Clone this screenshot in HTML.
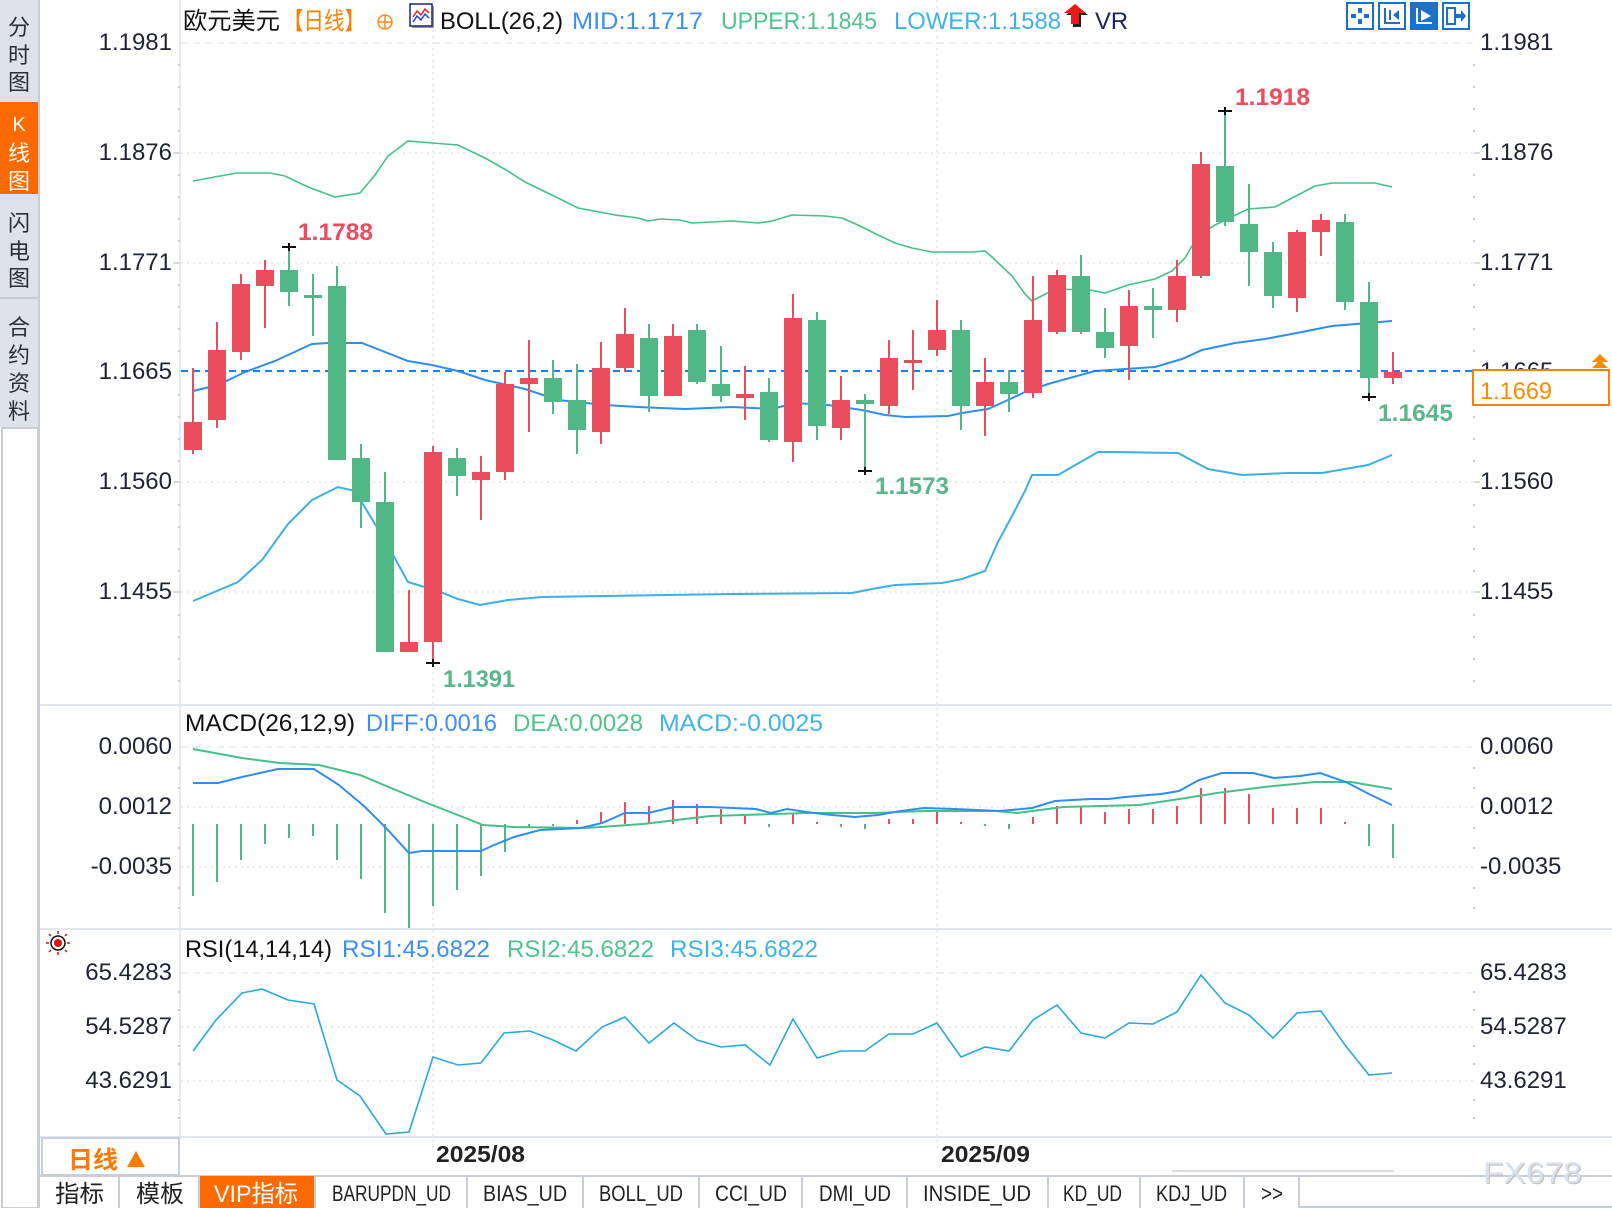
<!DOCTYPE html>
<html><head><meta charset="utf-8"><style>
html,body{margin:0;padding:0;background:#fff;}
svg{display:block;}
text{font-family:"Liberation Sans","Noto Sans CJK SC",sans-serif;}
.ax{font-size:24px;fill:#1e2433;}
.cj{font-family:"Liberation Sans","Noto Sans CJK SC",sans-serif;}
.mono{font-family:"Liberation Mono","Noto Sans CJK SC",monospace;font-size:22px;fill:#222;}
</style></head><body>
<svg width="1612" height="1208" viewBox="0 0 1612 1208" xmlns="http://www.w3.org/2000/svg">
<rect width="1612" height="1208" fill="#fff"/>

<!-- sidebar -->
<rect x="0" y="0" width="40" height="427" fill="#dfe2ea"/>
<rect x="0" y="102" width="38" height="92" fill="#ff6a00"/>
<line x1="0" y1="298" x2="40" y2="298" stroke="#c4c9d4" stroke-width="2"/>
<rect x="2" y="428" width="36" height="780" fill="#fff" stroke="#c8ced8" stroke-width="2"/>
<g class="cj" font-size="22" fill="#2a2d3a" text-anchor="middle">
<text x="19" y="35">分</text><text x="19" y="63">时</text><text x="19" y="90">图</text>
<text x="19" y="131" fill="#fff" font-size="20" font-family="Liberation Serif,serif">K</text>
<text x="19" y="161" fill="#fff">线</text><text x="19" y="189" fill="#fff">图</text>
<text x="19" y="231">闪</text><text x="19" y="259">电</text><text x="19" y="286">图</text>
<text x="19" y="335">合</text><text x="19" y="363">约</text><text x="19" y="391">资</text><text x="19" y="419">料</text>
</g>
<line x1="39" y1="0" x2="39" y2="1208" stroke="#c8ced8" stroke-width="2"/>

<!-- panel separators -->
<g stroke="#e1e6ee" stroke-width="2">
<line x1="40" y1="705" x2="1612" y2="705"/>
<line x1="40" y1="929" x2="1612" y2="929"/>
<line x1="40" y1="1137" x2="1612" y2="1137"/>
</g>
<!-- left axis line -->
<line x1="180" y1="0" x2="180" y2="1137" stroke="#e6eaf0" stroke-width="2"/>

<!-- horizontal gridlines -->
<g stroke="#e3e6ea" stroke-width="1.5" stroke-dasharray="2,4">
<line x1="181" y1="153" x2="1474" y2="153"/>
<line x1="181" y1="263" x2="1474" y2="263"/>
<line x1="181" y1="372" x2="1474" y2="372"/>
<line x1="181" y1="482" x2="1474" y2="482"/>
<line x1="181" y1="592" x2="1474" y2="592"/>
<line x1="181" y1="807" x2="1474" y2="807"/>
<line x1="181" y1="867" x2="1474" y2="867"/>
<line x1="181" y1="1027" x2="1474" y2="1027"/>
<line x1="181" y1="1081" x2="1474" y2="1081"/>
</g>
<g stroke="#e6eaf0" stroke-width="1.5" stroke-dasharray="7,5">
<line x1="181" y1="43" x2="1474" y2="43"/>
<line x1="181" y1="747" x2="1474" y2="747"/>
<line x1="181" y1="973" x2="1474" y2="973"/>
</g>
<!-- vertical gridlines -->
<g stroke="#e3e6ea" stroke-width="1.5" stroke-dasharray="2,4">
<line x1="433" y1="0" x2="433" y2="1148"/>
<line x1="937" y1="0" x2="937" y2="1148"/>
</g>

<!-- axis tick dots -->
<g fill="#c9ced7">
<rect x="178" y="64" width="2" height="2"/><rect x="178" y="86" width="2" height="2"/><rect x="178" y="108" width="2" height="2"/><rect x="178" y="130" width="2" height="2"/>
<rect x="178" y="174" width="2" height="2"/><rect x="178" y="196" width="2" height="2"/><rect x="178" y="218" width="2" height="2"/><rect x="178" y="240" width="2" height="2"/>
<rect x="178" y="284" width="2" height="2"/><rect x="178" y="306" width="2" height="2"/><rect x="178" y="328" width="2" height="2"/><rect x="178" y="350" width="2" height="2"/>
<rect x="178" y="394" width="2" height="2"/><rect x="178" y="416" width="2" height="2"/><rect x="178" y="438" width="2" height="2"/><rect x="178" y="460" width="2" height="2"/>
<rect x="178" y="504" width="2" height="2"/><rect x="178" y="526" width="2" height="2"/><rect x="178" y="548" width="2" height="2"/><rect x="178" y="570" width="2" height="2"/>
<rect x="178" y="614" width="2" height="2"/><rect x="178" y="636" width="2" height="2"/><rect x="178" y="658" width="2" height="2"/><rect x="178" y="680" width="2" height="2"/>
<rect x="178" y="767" width="2" height="2"/><rect x="178" y="787" width="2" height="2"/><rect x="178" y="827" width="2" height="2"/><rect x="178" y="847" width="2" height="2"/><rect x="178" y="887" width="2" height="2"/><rect x="178" y="907" width="2" height="2"/>
<rect x="178" y="991" width="2" height="2"/><rect x="178" y="1009" width="2" height="2"/><rect x="178" y="1045" width="2" height="2"/><rect x="178" y="1063" width="2" height="2"/><rect x="178" y="1099" width="2" height="2"/><rect x="178" y="1117" width="2" height="2"/>
<rect x="1473" y="64" width="2" height="2"/><rect x="1473" y="86" width="2" height="2"/><rect x="1473" y="108" width="2" height="2"/><rect x="1473" y="130" width="2" height="2"/>
<rect x="1473" y="174" width="2" height="2"/><rect x="1473" y="196" width="2" height="2"/><rect x="1473" y="218" width="2" height="2"/><rect x="1473" y="240" width="2" height="2"/>
<rect x="1473" y="284" width="2" height="2"/><rect x="1473" y="306" width="2" height="2"/><rect x="1473" y="328" width="2" height="2"/><rect x="1473" y="350" width="2" height="2"/>
<rect x="1473" y="416" width="2" height="2"/><rect x="1473" y="438" width="2" height="2"/><rect x="1473" y="460" width="2" height="2"/>
<rect x="1473" y="504" width="2" height="2"/><rect x="1473" y="526" width="2" height="2"/><rect x="1473" y="548" width="2" height="2"/><rect x="1473" y="570" width="2" height="2"/>
<rect x="1473" y="614" width="2" height="2"/><rect x="1473" y="636" width="2" height="2"/><rect x="1473" y="658" width="2" height="2"/><rect x="1473" y="680" width="2" height="2"/>
<rect x="1473" y="767" width="2" height="2"/><rect x="1473" y="787" width="2" height="2"/><rect x="1473" y="827" width="2" height="2"/><rect x="1473" y="847" width="2" height="2"/><rect x="1473" y="887" width="2" height="2"/><rect x="1473" y="907" width="2" height="2"/>
<rect x="1473" y="991" width="2" height="2"/><rect x="1473" y="1009" width="2" height="2"/><rect x="1473" y="1045" width="2" height="2"/><rect x="1473" y="1063" width="2" height="2"/><rect x="1473" y="1099" width="2" height="2"/><rect x="1473" y="1117" width="2" height="2"/>
</g>
<g stroke="#c9ced7" stroke-width="1.5">
<line x1="173" y1="153" x2="180" y2="153"/><line x1="173" y1="263" x2="180" y2="263"/><line x1="173" y1="482" x2="180" y2="482"/><line x1="173" y1="592" x2="180" y2="592"/>
<line x1="1474" y1="153" x2="1480" y2="153"/><line x1="1474" y1="263" x2="1480" y2="263"/><line x1="1474" y1="482" x2="1480" y2="482"/><line x1="1474" y1="592" x2="1480" y2="592"/>
</g>

<!-- left axis labels -->
<g class="ax" text-anchor="end">
<text x="172" y="50">1.1981</text><text x="172" y="160">1.1876</text><text x="172" y="270">1.1771</text><text x="172" y="379">1.1665</text><text x="172" y="489">1.1560</text><text x="172" y="599">1.1455</text>
<text x="172" y="754">0.0060</text><text x="172" y="814">0.0012</text><text x="172" y="874">-0.0035</text>
<text x="172" y="980">65.4283</text><text x="172" y="1034">54.5287</text><text x="172" y="1088">43.6291</text>
</g>
<!-- right axis labels -->
<g class="ax">
<text x="1480" y="50">1.1981</text><text x="1480" y="160">1.1876</text><text x="1480" y="270">1.1771</text><text x="1480" y="379">1.1665</text><text x="1480" y="489">1.1560</text><text x="1480" y="599">1.1455</text>
<text x="1480" y="754">0.0060</text><text x="1480" y="814">0.0012</text><text x="1480" y="874">-0.0035</text>
<text x="1480" y="980">65.4283</text><text x="1480" y="1034">54.5287</text><text x="1480" y="1088">43.6291</text>
</g>

<!-- header -->
<text x="183" y="29" font-size="24" fill="#111" textLength="97" lengthAdjust="spacingAndGlyphs">欧元美元</text>
<text x="283" y="29" font-size="24" fill="#ff8000" textLength="82" lengthAdjust="spacingAndGlyphs">【日线】</text>
<circle cx="385" cy="22" r="7" fill="none" stroke="#ff8c1a" stroke-width="1.5"/>
<line x1="378" y1="22" x2="392" y2="22" stroke="#ff8c1a" stroke-width="1.5"/>
<line x1="385" y1="15" x2="385" y2="29" stroke="#ff8c1a" stroke-width="1.5"/>
<rect x="412" y="6" width="22" height="22" fill="#9a9a9a"/>
<rect x="410" y="4" width="22" height="22" fill="#fff" stroke="#1a237e" stroke-width="1.5"/>
<polyline points="413,17 417,11 421,15 425,9 429,13" fill="none" stroke="#e02020" stroke-width="1.5"/>
<polyline points="413,22 417,16 421,20 425,14 429,18" fill="none" stroke="#2040e0" stroke-width="1.5"/>
<text x="440" y="29" font-size="24" fill="#111" textLength="123" lengthAdjust="spacingAndGlyphs">BOLL(26,2)</text>
<text x="572" y="29" font-size="24" fill="#3d8ef5" textLength="131" lengthAdjust="spacingAndGlyphs">MID:1.1717</text>
<text x="721" y="29" font-size="24" fill="#4fc48b" textLength="156" lengthAdjust="spacingAndGlyphs">UPPER:1.1845</text>
<text x="894" y="29" font-size="24" fill="#3fb2ea" textLength="167" lengthAdjust="spacingAndGlyphs">LOWER:1.1588</text>
<polygon points="1077,6 1088,15 1081,15 1081,27 1073,27 1073,15 1066,15" fill="#222"/>
<polygon points="1075,4 1086,13 1079,13 1079,24 1071,24 1071,13 1064,13" fill="#f01818"/>
<text x="1095" y="29" font-size="24" fill="#1a2460" textLength="33" lengthAdjust="spacingAndGlyphs">VR</text>

<!-- top right icons -->
<g stroke="#1a6fc9" stroke-width="2" fill="#fff">
<rect x="1347" y="3" width="26" height="26"/>
<rect x="1379" y="3" width="26" height="26"/>
<rect x="1411" y="3" width="26" height="26" fill="#1a73c8"/>
<rect x="1443" y="3" width="26" height="26"/>
</g>
<g fill="#1a6fc9">
<rect x="1358" y="8" width="4" height="5"/><rect x="1358" y="19" width="4" height="5"/><rect x="1351" y="14" width="5" height="4"/><rect x="1364" y="14" width="5" height="4"/>
<rect x="1384" y="8" width="2" height="16"/><rect x="1384" y="22" width="16" height="2"/><rect x="1389" y="10" width="2" height="10"/><polygon points="1399,10 1393,15 1399,20"/>
<rect x="1447" y="8" width="8" height="16" fill="none" stroke="#1a6fc9" stroke-width="2"/><polygon points="1456,14 1461,14 1461,10 1466,16 1461,22 1461,18 1456,18"/>
</g>
<g fill="#fff">
<rect x="1416" y="8" width="2" height="16"/><rect x="1416" y="22" width="16" height="2"/><polygon points="1421,10 1431,16 1421,21"/>
</g>

<!-- Bollinger bands -->
<polyline fill="none" stroke="#46c088" stroke-width="1.6" points="193,181 220,176 237,173 270,173 285,176 308,187 335,197 360,193 375,175 388,156 408,141 445,144 458,145 485,158 508,171 525,182 558,198 578,208 605,213 615,215 638,218 648,221 660,219 680,220 692,223 732,221 758,223 772,221 792,215 825,216 842,218 858,225 878,235 895,243 912,248 932,252 972,252 985,251 992,257 1012,276 1025,294 1032,301 1055,289 1090,290 1105,293 1128,285 1155,279 1172,271 1185,258 1198,236 1215,225 1248,209 1275,207 1315,186 1332,183 1375,183 1392,187"/>
<polyline fill="none" stroke="#2f8ef0" stroke-width="2" points="193,391 218,385 245,372 275,361 312,344 328,343 362,343 408,361 432,365 458,371 485,380 525,389 558,400 605,405 638,407 685,409 732,407 772,409 795,403 828,405 862,410 885,415 905,417 948,416 962,413 988,409 1008,400 1025,392 1048,384 1095,371 1155,367 1182,359 1202,350 1235,343 1265,339 1302,332 1332,326 1392,321"/>
<polyline fill="none" stroke="#3cb0e6" stroke-width="2" points="193,601 238,582 262,560 288,524 312,500 338,487 355,491 375,524 392,553 408,582 438,591 458,599 480,605 508,600 542,597 605,596 732,594 852,593 872,589 895,585 942,583 962,579 985,571 998,542 1012,516 1025,491 1032,475 1058,475 1098,452 1115,452 1178,453 1208,469 1242,475 1288,473 1322,473 1368,465 1392,455"/>

<!-- current price line -->
<line x1="181" y1="371" x2="1474" y2="371" stroke="#1e7ff0" stroke-width="2" stroke-dasharray="7,5"/>

<!-- candles -->
<g id="candles">
<g stroke="#ec4d5c" stroke-width="2">
<line x1="193" y1="368" x2="193" y2="454"/><line x1="217" y1="322" x2="217" y2="428"/><line x1="241" y1="274" x2="241" y2="360"/><line x1="265" y1="260" x2="265" y2="328"/>
<line x1="409" y1="590" x2="409" y2="652"/><line x1="433" y1="446" x2="433" y2="663"/><line x1="481" y1="456" x2="481" y2="520"/><line x1="505" y1="372" x2="505" y2="480"/>
<line x1="529" y1="340" x2="529" y2="432"/><line x1="601" y1="342" x2="601" y2="444"/><line x1="625" y1="308" x2="625" y2="372"/><line x1="673" y1="324" x2="673" y2="396"/>
<line x1="745" y1="366" x2="745" y2="420"/><line x1="793" y1="294" x2="793" y2="462"/><line x1="841" y1="376" x2="841" y2="440"/><line x1="889" y1="340" x2="889" y2="414"/>
<line x1="913" y1="330" x2="913" y2="390"/><line x1="937" y1="300" x2="937" y2="356"/><line x1="985" y1="358" x2="985" y2="436"/><line x1="1033" y1="276" x2="1033" y2="398"/>
<line x1="1057" y1="270" x2="1057" y2="334"/><line x1="1129" y1="290" x2="1129" y2="380"/><line x1="1177" y1="260" x2="1177" y2="322"/><line x1="1201" y1="152" x2="1201" y2="278"/>
<line x1="1297" y1="230" x2="1297" y2="312"/><line x1="1321" y1="214" x2="1321" y2="256"/><line x1="1393" y1="352" x2="1393" y2="384"/>
</g>
<g fill="#ec4d5c">
<rect x="184" y="422" width="18" height="28"/><rect x="208" y="350" width="18" height="70"/><rect x="232" y="284" width="18" height="68"/><rect x="256" y="270" width="18" height="16"/>
<rect x="400" y="642" width="18" height="10"/><rect x="424" y="452" width="18" height="190"/><rect x="472" y="472" width="18" height="8"/><rect x="496" y="384" width="18" height="88"/>
<rect x="520" y="378" width="18" height="6"/><rect x="592" y="368" width="18" height="64"/><rect x="616" y="334" width="18" height="34"/><rect x="664" y="336" width="18" height="60"/>
<rect x="736" y="394" width="18" height="4"/><rect x="784" y="318" width="18" height="124"/><rect x="832" y="400" width="18" height="28"/><rect x="880" y="358" width="18" height="48"/>
<rect x="904" y="360" width="18" height="3"/><rect x="928" y="330" width="18" height="20"/><rect x="976" y="382" width="18" height="24"/><rect x="1024" y="320" width="18" height="73"/>
<rect x="1048" y="275" width="18" height="57"/><rect x="1120" y="306" width="18" height="40"/><rect x="1168" y="276" width="18" height="34"/><rect x="1192" y="164" width="18" height="112"/>
<rect x="1288" y="232" width="18" height="66"/><rect x="1312" y="220" width="18" height="12"/><rect x="1384" y="372" width="18" height="6"/>
</g>
<g stroke="#50b886" stroke-width="2">
<line x1="289" y1="247" x2="289" y2="306"/><line x1="313" y1="274" x2="313" y2="336"/><line x1="337" y1="266" x2="337" y2="460"/><line x1="361" y1="444" x2="361" y2="528"/>
<line x1="385" y1="472" x2="385" y2="652"/><line x1="457" y1="448" x2="457" y2="496"/><line x1="553" y1="360" x2="553" y2="414"/><line x1="577" y1="364" x2="577" y2="454"/>
<line x1="649" y1="324" x2="649" y2="412"/><line x1="697" y1="324" x2="697" y2="384"/><line x1="721" y1="346" x2="721" y2="402"/><line x1="769" y1="378" x2="769" y2="442"/>
<line x1="817" y1="312" x2="817" y2="440"/><line x1="865" y1="394" x2="865" y2="471"/><line x1="961" y1="320" x2="961" y2="430"/><line x1="1009" y1="370" x2="1009" y2="412"/>
<line x1="1081" y1="255" x2="1081" y2="334"/><line x1="1105" y1="308" x2="1105" y2="358"/><line x1="1153" y1="288" x2="1153" y2="338"/><line x1="1225" y1="111" x2="1225" y2="226"/>
<line x1="1249" y1="184" x2="1249" y2="286"/><line x1="1273" y1="242" x2="1273" y2="308"/><line x1="1345" y1="214" x2="1345" y2="310"/><line x1="1369" y1="282" x2="1369" y2="397"/>
</g>
<g fill="#50b886">
<rect x="280" y="270" width="18" height="22"/><rect x="304" y="295" width="18" height="3"/><rect x="328" y="286" width="18" height="174"/><rect x="352" y="458" width="18" height="44"/>
<rect x="376" y="502" width="18" height="150"/><rect x="448" y="458" width="18" height="18"/><rect x="544" y="378" width="18" height="24"/><rect x="568" y="400" width="18" height="30"/>
<rect x="640" y="338" width="18" height="58"/><rect x="688" y="330" width="18" height="52"/><rect x="712" y="384" width="18" height="12"/><rect x="760" y="392" width="18" height="48"/>
<rect x="808" y="320" width="18" height="106"/><rect x="856" y="400" width="18" height="4"/><rect x="952" y="330" width="18" height="76"/><rect x="1000" y="382" width="18" height="12"/>
<rect x="1072" y="276" width="18" height="56"/><rect x="1096" y="332" width="18" height="16"/><rect x="1144" y="306" width="18" height="4"/><rect x="1216" y="166" width="18" height="56"/>
<rect x="1240" y="224" width="18" height="28"/><rect x="1264" y="252" width="18" height="44"/><rect x="1336" y="222" width="18" height="80"/><rect x="1360" y="302" width="18" height="76"/>
</g>
</g>
<!-- high/low markers -->
<g stroke="#111" stroke-width="2">
<line x1="282" y1="247" x2="296" y2="247"/><line x1="289" y1="243" x2="289" y2="251"/>
<line x1="426" y1="663" x2="440" y2="663"/><line x1="433" y1="659" x2="433" y2="667"/>
<line x1="858" y1="471" x2="872" y2="471"/><line x1="865" y1="467" x2="865" y2="475"/>
<line x1="1218" y1="111" x2="1232" y2="111"/><line x1="1225" y1="107" x2="1225" y2="115"/>
<line x1="1362" y1="397" x2="1376" y2="397"/><line x1="1369" y1="393" x2="1369" y2="401"/>
</g>
<g font-size="24" font-weight="bold">
<text x="298" y="240" fill="#ec4d5c" textLength="75" lengthAdjust="spacingAndGlyphs">1.1788</text>
<text x="443" y="687" fill="#5ab78a" textLength="72" lengthAdjust="spacingAndGlyphs">1.1391</text>
<text x="875" y="494" fill="#5ab78a" textLength="74" lengthAdjust="spacingAndGlyphs">1.1573</text>
<text x="1235" y="105" fill="#ec4d5c" textLength="75" lengthAdjust="spacingAndGlyphs">1.1918</text>
<text x="1378" y="421" fill="#5ab78a" textLength="75" lengthAdjust="spacingAndGlyphs">1.1645</text>
</g>

<!-- price box -->
<rect x="1473" y="370" width="136" height="35" fill="#fff" stroke="#ff7f00" stroke-width="2"/>
<text x="1480" y="399" font-size="24" fill="#ff8a00" textLength="72" lengthAdjust="spacingAndGlyphs">1.1669</text>
<polygon points="1600,354 1608,362 1592,362" fill="#ff8a00"/>
<polygon points="1600,360 1608,368 1592,368" fill="#ff8a00"/>

<!-- MACD -->
<text x="185" y="731" font-size="24" fill="#111" textLength="170" lengthAdjust="spacingAndGlyphs">MACD(26,12,9)</text>
<text x="366" y="731" font-size="24" fill="#3d8ef5" textLength="131" lengthAdjust="spacingAndGlyphs">DIFF:0.0016</text>
<text x="513" y="731" font-size="24" fill="#4fc48b" textLength="130" lengthAdjust="spacingAndGlyphs">DEA:0.0028</text>
<text x="659" y="731" font-size="24" fill="#3fb2ea" textLength="164" lengthAdjust="spacingAndGlyphs">MACD:-0.0025</text>
<g stroke="#50b886" stroke-width="2">
<line x1="193" y1="824" x2="193" y2="896"/><line x1="217" y1="824" x2="217" y2="882"/><line x1="241" y1="824" x2="241" y2="860"/><line x1="265" y1="824" x2="265" y2="844"/>
<line x1="289" y1="824" x2="289" y2="838"/><line x1="313" y1="824" x2="313" y2="836"/><line x1="337" y1="824" x2="337" y2="860"/><line x1="361" y1="824" x2="361" y2="879"/>
<line x1="385" y1="824" x2="385" y2="913"/><line x1="409" y1="824" x2="409" y2="928"/><line x1="433" y1="824" x2="433" y2="906"/><line x1="457" y1="824" x2="457" y2="890"/>
<line x1="481" y1="824" x2="481" y2="876"/><line x1="505" y1="824" x2="505" y2="852"/><line x1="529" y1="824" x2="529" y2="828"/><line x1="553" y1="824" x2="553" y2="826"/>
<line x1="769" y1="824" x2="769" y2="827"/><line x1="841" y1="824" x2="841" y2="827"/><line x1="865" y1="824" x2="865" y2="829"/><line x1="985" y1="824" x2="985" y2="826"/>
<line x1="1009" y1="824" x2="1009" y2="829"/><line x1="1369" y1="824" x2="1369" y2="846"/><line x1="1393" y1="824" x2="1393" y2="858"/>
</g>
<g stroke="#ec4d5c" stroke-width="2">
<line x1="577" y1="824" x2="577" y2="820"/><line x1="601" y1="824" x2="601" y2="812"/><line x1="625" y1="824" x2="625" y2="802"/><line x1="649" y1="824" x2="649" y2="806"/>
<line x1="673" y1="824" x2="673" y2="800"/><line x1="697" y1="824" x2="697" y2="804"/><line x1="721" y1="824" x2="721" y2="809"/><line x1="745" y1="824" x2="745" y2="815"/>
<line x1="793" y1="824" x2="793" y2="813"/><line x1="817" y1="824" x2="817" y2="822"/><line x1="889" y1="824" x2="889" y2="819"/><line x1="913" y1="824" x2="913" y2="819"/>
<line x1="937" y1="824" x2="937" y2="812"/><line x1="961" y1="824" x2="961" y2="822"/><line x1="1033" y1="824" x2="1033" y2="817"/><line x1="1057" y1="824" x2="1057" y2="806"/>
<line x1="1081" y1="824" x2="1081" y2="807"/><line x1="1105" y1="824" x2="1105" y2="812"/><line x1="1129" y1="824" x2="1129" y2="809"/><line x1="1153" y1="824" x2="1153" y2="809"/>
<line x1="1177" y1="824" x2="1177" y2="806"/><line x1="1201" y1="824" x2="1201" y2="788"/><line x1="1225" y1="824" x2="1225" y2="788"/><line x1="1249" y1="824" x2="1249" y2="794"/>
<line x1="1273" y1="824" x2="1273" y2="808"/><line x1="1297" y1="824" x2="1297" y2="808"/><line x1="1321" y1="824" x2="1321" y2="808"/><line x1="1345" y1="824" x2="1345" y2="822"/>
</g>
<polyline fill="none" stroke="#46c088" stroke-width="2" points="193,749 242,758 280,763 319,765 360,775 391,788 427,803 463,817 483,825 514,827 586,828 643,824 710,816 806,813 875,813 924,811 996,811 1017,813 1063,807 1140,805 1186,798 1217,793 1264,787 1315,782 1351,782 1392,789"/>
<polyline fill="none" stroke="#2f8ef0" stroke-width="2" points="193,783 218,783 242,777 278,769 314,769 339,785 365,807 386,828 409,853 422,851 481,851 494,845 514,837 540,830 581,828 602,823 625,813 648,813 674,807 710,807 756,809 771,813 787,809 806,812 832,815 855,817 878,815 901,811 924,808 955,809 999,811 1022,809 1032,808 1055,801 1091,799 1109,799 1125,797 1161,794 1179,791 1199,780 1222,773 1253,773 1274,778 1300,776 1320,773 1346,782 1369,794 1392,805"/>

<!-- RSI -->
<g>
<circle cx="58" cy="943" r="7" fill="none" stroke="#111" stroke-width="1.5"/>
<circle cx="58" cy="943" r="4" fill="#e01010"/>
<g stroke="#e01010" stroke-width="1.5">
<line x1="58" y1="931" x2="58" y2="934"/><line x1="58" y1="952" x2="58" y2="955"/>
<line x1="46" y1="943" x2="49" y2="943"/><line x1="67" y1="943" x2="70" y2="943"/>
<line x1="49" y1="934" x2="51" y2="936"/><line x1="65" y1="950" x2="67" y2="952"/>
<line x1="67" y1="934" x2="65" y2="936"/><line x1="51" y1="950" x2="49" y2="952"/>
</g>
</g>
<text x="185" y="957" font-size="24" fill="#111" textLength="147" lengthAdjust="spacingAndGlyphs">RSI(14,14,14)</text>
<text x="342" y="957" font-size="24" fill="#3d8ef5" textLength="148" lengthAdjust="spacingAndGlyphs">RSI1:45.6822</text>
<text x="507" y="957" font-size="24" fill="#4fc48b" textLength="147" lengthAdjust="spacingAndGlyphs">RSI2:45.6822</text>
<text x="670" y="957" font-size="24" fill="#3fb2ea" textLength="148" lengthAdjust="spacingAndGlyphs">RSI3:45.6822</text>
<polyline fill="none" stroke="#2aa8e0" stroke-width="1.6" points="193,1051 216,1020 242,993 262,989 288,1000 314,1004 337,1080 360,1096 386,1134 409,1132 433,1057 458,1065 481,1063 504,1033 530,1031 553,1040 576,1051 602,1027 625,1017 649,1043 674,1023 697,1040 721,1047 745,1045 770,1065 793,1019 817,1058 841,1051 865,1051 889,1034 913,1034 937,1023 961,1057 985,1047 1009,1051 1033,1020 1057,1005 1081,1033 1105,1038 1129,1023 1153,1024 1177,1012 1201,975 1225,1003 1249,1015 1273,1038 1297,1013 1321,1011 1345,1045 1369,1075 1392,1073"/>

<!-- time axis -->
<rect x="42" y="1138" width="137" height="37" fill="#fff" stroke="#c8d0da" stroke-width="2"/>
<text x="68" y="1168" font-size="24" font-weight="bold" fill="#ff7a00" textLength="50" lengthAdjust="spacingAndGlyphs">日线</text>
<polygon points="136,1151 145,1167 127,1167" fill="#ff7a00"/>
<text x="436" y="1162" font-size="23" font-weight="bold" fill="#222" textLength="89" lengthAdjust="spacingAndGlyphs">2025/08</text>
<text x="941" y="1162" font-size="23" font-weight="bold" fill="#222" textLength="89" lengthAdjust="spacingAndGlyphs">2025/09</text>
<line x1="1172" y1="1171" x2="1394" y2="1171" stroke="#d6dce5" stroke-width="2"/>

<!-- bottom tabs -->
<line x1="40" y1="1176" x2="1612" y2="1176" stroke="#c8cfd9" stroke-width="2"/>
<rect x="200" y="1176" width="114" height="32" fill="#ff6a00"/>
<g stroke="#c8cfd9" stroke-width="2">
<line x1="119" y1="1176" x2="119" y2="1208"/><line x1="199" y1="1176" x2="199" y2="1208"/><line x1="315" y1="1176" x2="315" y2="1208"/>
<line x1="467" y1="1176" x2="467" y2="1208"/><line x1="583" y1="1176" x2="583" y2="1208"/><line x1="699" y1="1176" x2="699" y2="1208"/>
<line x1="802" y1="1176" x2="802" y2="1208"/><line x1="907" y1="1176" x2="907" y2="1208"/><line x1="1048" y1="1176" x2="1048" y2="1208"/>
<line x1="1140" y1="1176" x2="1140" y2="1208"/><line x1="1244" y1="1176" x2="1244" y2="1208"/><line x1="1299" y1="1176" x2="1299" y2="1208"/>
<line x1="1299" y1="1207" x2="1612" y2="1207"/>
</g>
<g font-size="24" fill="#222">
<text x="55" y="1202" textLength="49" lengthAdjust="spacingAndGlyphs">指标</text>
<text x="136" y="1202" textLength="48" lengthAdjust="spacingAndGlyphs">模板</text>
<text x="214" y="1202" fill="#fff" textLength="84" lengthAdjust="spacingAndGlyphs">VIP指标</text>
</g>
<g class="mono">
<text x="332" y="1201" textLength="119" lengthAdjust="spacingAndGlyphs">BARUPDN_UD</text>
<text x="483" y="1201" textLength="84" lengthAdjust="spacingAndGlyphs">BIAS_UD</text>
<text x="599" y="1201" textLength="84" lengthAdjust="spacingAndGlyphs">BOLL_UD</text>
<text x="715" y="1201" textLength="72" lengthAdjust="spacingAndGlyphs">CCI_UD</text>
<text x="819" y="1201" textLength="72" lengthAdjust="spacingAndGlyphs">DMI_UD</text>
<text x="923" y="1201" textLength="108" lengthAdjust="spacingAndGlyphs">INSIDE_UD</text>
<text x="1063" y="1201" textLength="59" lengthAdjust="spacingAndGlyphs">KD_UD</text>
<text x="1156" y="1201" textLength="71" lengthAdjust="spacingAndGlyphs">KDJ_UD</text>
<text x="1261" y="1201" textLength="22" lengthAdjust="spacingAndGlyphs">&gt;&gt;</text>
</g>

<!-- watermark -->
<text x="1484" y="1184" font-size="30" fill="#c9bfb6" textLength="99" lengthAdjust="spacingAndGlyphs">FX678</text>
<text x="1483" y="1183" font-size="30" fill="#d6e0ee" textLength="99" lengthAdjust="spacingAndGlyphs">FX678</text>
</svg>
</body></html>
